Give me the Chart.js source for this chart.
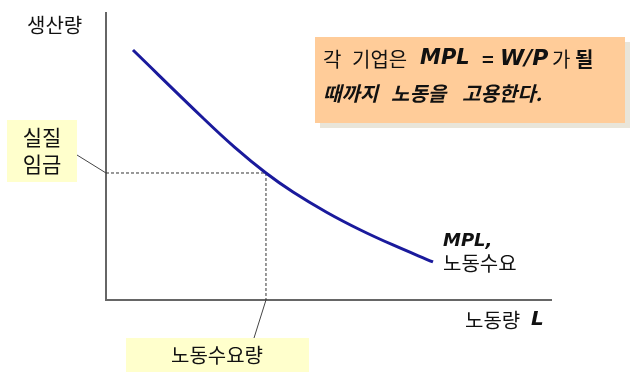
<!DOCTYPE html>
<html>
<head>
<meta charset="utf-8">
<script src="https://cdn.jsdelivr.net/npm/chart.js@4.4.1/dist/chart.umd.min.js"></script>
<style>
  html, body { margin: 0; padding: 0; background: #ffffff; }
  #wrap { position: relative; width: 632px; height: 384px; }
  canvas { display: block; }
</style>
</head>
<body>
<div id="wrap"><canvas id="c" width="632" height="384"></canvas></div>
<script>
// Labor quantity (L) and marginal product of labor (MPL) (arbitrary units 0..10)
const laborL = [0.605, 2.175, 2.881, 3.587, 4.193, 4.955, 5.695, 6.435, 7.332];
const mplValues = [8.68, 6.32, 5.31, 4.41, 3.75, 3.04, 2.44, 1.91, 1.32];
// Equilibrium: real wage and labor demanded
const realWage = 4.41;
const laborDemanded = 3.587;
const axisRange = { xMin: 0, xMax: 10, yMin: 0, yMax: 10 };

const FONT = "'Noto Sans CJK KR', 'Noto Sans', sans-serif";
const LATIN = "'DejaVu Sans', 'Noto Sans', sans-serif";

const curve = laborL.map((x, i) => ({ x: x, y: mplValues[i] }));
const guide = [
  { x: axisRange.xMin, y: realWage },
  { x: laborDemanded, y: realWage },
  { x: laborDemanded, y: axisRange.yMin }
];

const annotations = {
  id: 'annotations',
  beforeDatasetsDraw(chart) {
    const ctx = chart.ctx;
    const xs = chart.scales.x, ys = chart.scales.y;
    ctx.save();
    ctx.strokeStyle = '#666';
    ctx.lineWidth = 2;
    ctx.beginPath();
    ctx.moveTo(xs.getPixelForValue(axisRange.xMin), ys.getPixelForValue(axisRange.yMax));
    ctx.lineTo(xs.getPixelForValue(axisRange.xMin), ys.getPixelForValue(axisRange.yMin));
    ctx.lineTo(xs.getPixelForValue(axisRange.xMax), ys.getPixelForValue(axisRange.yMin));
    ctx.stroke();
    ctx.restore();
  },
  afterDatasetsDraw(chart) {
    const ctx = chart.ctx;
    const xs = chart.scales.x, ys = chart.scales.y;
    const ax = xs.getPixelForValue(axisRange.xMin);
    const ay = ys.getPixelForValue(axisRange.yMin);
    const wy = ys.getPixelForValue(realWage);
    const lx = xs.getPixelForValue(laborDemanded);
    const endX = xs.getPixelForValue(laborL[laborL.length - 1]);
    const endY = ys.getPixelForValue(mplValues[mplValues.length - 1]);
    ctx.save();
    ctx.textBaseline = 'middle';
    ctx.fillStyle = '#111';

    // y axis title
    ctx.font = '20px ' + FONT;
    ctx.textAlign = 'left';
    ctx.fillText('생산량', 27, 25);

    // x axis title
    ctx.fillText('노동량', 465, 320);
    ctx.font = 'italic bold 20px ' + LATIN;
    ctx.fillText('L', 531, 320);

    // curve label
    ctx.font = 'italic bold 18px ' + LATIN;
    ctx.fillText('MPL,', endX + 10, endY - 21);
    ctx.font = '20px ' + FONT;
    ctx.fillText('노동수요', endX + 10, endY + 1);

    // real wage box
    ctx.fillStyle = '#ffffcc';
    ctx.fillRect(7, 120, 70, 62);
    ctx.strokeStyle = '#444';
    ctx.lineWidth = 1;
    ctx.beginPath();
    ctx.moveTo(77, 155);
    ctx.lineTo(ax, wy);
    ctx.stroke();
    ctx.fillStyle = '#111';
    ctx.textAlign = 'center';
    ctx.font = '21px ' + FONT;
    ctx.fillText('실질', 42, 137);
    ctx.fillText('임금', 42, 164);

    // labor demanded box
    ctx.fillStyle = '#ffffcc';
    ctx.fillRect(126, 338, 183, 34);
    ctx.beginPath();
    ctx.moveTo(lx, ay);
    ctx.lineTo(254, 338);
    ctx.stroke();
    ctx.fillStyle = '#111';
    ctx.font = '20px ' + FONT;
    ctx.fillText('노동수요량', 217, 355);

    // orange note box with shadow
    ctx.fillStyle = '#e9e5d9';
    ctx.fillRect(320, 42, 310, 86);
    ctx.fillStyle = '#ffcc99';
    ctx.fillRect(315, 37, 310, 86);
    ctx.fillStyle = '#111';
    ctx.textAlign = 'left';
    const line1 = [
      ['각', '20px ' + FONT, 323],
      ['기업은', '20px ' + FONT, 352],
      ['MPL', 'italic bold 21px ' + LATIN, 420],
      ['=', 'bold 20px ' + FONT, 482],
      ['W/P', 'italic bold 22px ' + LATIN, 500],
      ['가', '20px ' + FONT, 552],
      ['될', 'bold 20px ' + FONT, 575]
    ];
    for (const [t, f, px] of line1) {
      ctx.font = f;
      ctx.fillText(t, px, 59);
    }
    const line2 = [
      ['때까지', 323],
      ['노동을', 391],
      ['고용한다.', 462]
    ];
    ctx.font = 'italic bold 20px ' + FONT;
    for (const [t, px] of line2) {
      ctx.fillText(t, px, 93);
    }
    ctx.restore();
  }
};

new Chart(document.getElementById('c'), {
  type: 'scatter',
  data: {
    datasets: [
      {
        data: curve,
        showLine: true,
        borderColor: '#1a1a9c',
        borderWidth: 3,
        pointRadius: 0,
        tension: 0.4,
        fill: false
      },
      {
        data: guide,
        showLine: true,
        borderColor: '#333',
        borderWidth: 1,
        borderDash: [3, 2],
        pointRadius: 0,
        tension: 0,
        fill: false
      }
    ]
  },
  options: {
    responsive: false,
    animation: false,
    events: [],
    layout: { padding: { left: 106, right: 80, top: 12, bottom: 84 } },
    plugins: { legend: { display: false }, tooltip: { enabled: false } },
    scales: {
      x: {
        type: 'linear', min: axisRange.xMin, max: axisRange.xMax,
        grid: { display: false, drawTicks: false },
        ticks: { display: false },
        border: { display: false }
      },
      y: {
        type: 'linear', min: axisRange.yMin, max: axisRange.yMax,
        grid: { display: false, drawTicks: false },
        ticks: { display: false },
        border: { display: false }
      }
    }
  },
  plugins: [annotations]
});
</script>
</body>
</html>
